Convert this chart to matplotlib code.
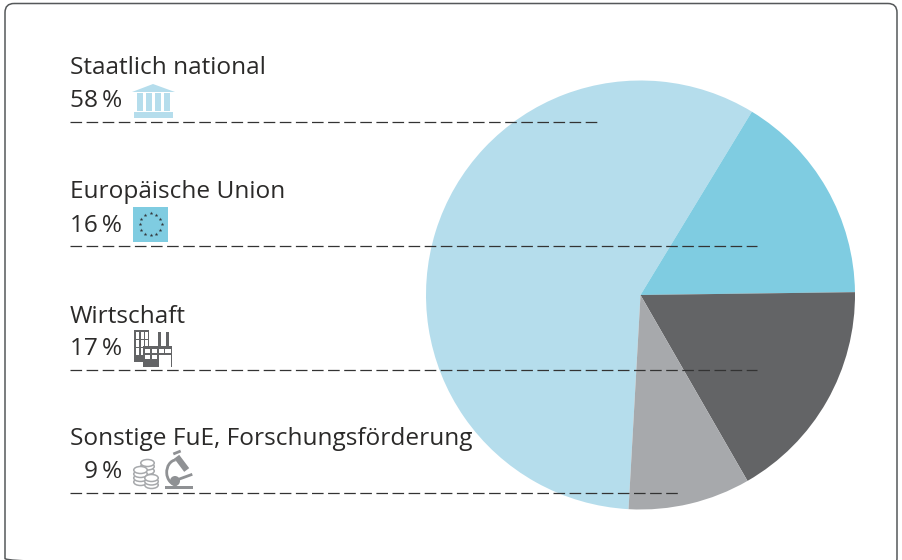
# Finanzierung: Kreisdiagramm mit Legende links

import numpy
from matplotlib import pyplot as plt
from matplotlib import patches

plt.rcParams['font.family'] = ['Open Sans', 'DejaVu Sans']

categories = ["Staatlich national", "Europäische Union", "Wirtschaft", "Sonstige FuE, Forschungsförderung"]
shares = [57.8, 16.1, 16.9, 9.2]
share_labels = ["58\u2009%", "16\u2009%", "17\u2009%", "9\u2009%"]
colors = ["#b5ddec", "#7fcce1", "#636466", "#a7a9ac"]

W = 902
H = 560

fig = plt.figure(figsize=(W / 100, H / 100), dpi=100)

# Kreis in eigener Achse, Mitte (640.5, 295), Radius 214.5 px
cx, cy, r = 640.5, 295, 214.5
pie_ax = fig.add_axes([(cx - r) / W, 1 - (cy + r) / H, 2 * r / W, 2 * r / H])
pie_ax.pie(shares, colors=colors, startangle=-93.2, counterclock=False, radius=1)
pie_ax.set_xlim(-1, 1)
pie_ax.set_ylim(-1, 1)
pie_ax.axis("off")

# alles andere in Pixelkoordinaten
ax = fig.add_axes([0, 0, 1, 1], zorder=5)
ax.set_xlim(0, W)
ax.set_ylim(H, 0)
ax.axis("off")
ax.patch.set_alpha(0)

# Rahmen, unten abgeschnitten
frame = patches.FancyBboxPatch((5, 3.5), 892, 564, boxstyle="round,pad=0,rounding_size=9",
                               fill=False, ec="#55585a", lw=1.1)
ax.add_patch(frame)

title_y = [74, 198, 323, 445]
value_y = [107, 232, 355, 478]
line_y = [122, 246, 370, 493]
line_end = [597, 757, 757, 680]
for i in range(len(categories)):
    ax.text(70, title_y[i], categories[i], fontsize=17.6, color="#2b2a29", va="baseline", ha="left")
    ax.text(122, value_y[i], share_labels[i], fontsize=17.6, color="#2b2a29", va="baseline", ha="right")
    ax.plot([70, line_end[i]], [line_y[i], line_y[i]], color="#333333", lw=0.9, dashes=(9.28, 3.6))


def rect(x, y, w, h, c):
    ax.add_patch(patches.Rectangle((x, y), w, h, fc=c, ec="none"))


# Gebäude
c = colors[0]
ax.add_patch(patches.Polygon([[132, 92], [153, 84], [175, 92]], fc=c, ec="none"))
for x in [137, 146, 155, 164]:
    rect(x, 93, 6, 18, c)
rect(134, 112, 39, 6, c)

# EU-Fahne mit Sternenkreis
rect(133, 207, 35, 35, colors[1])
for a in numpy.arange(0, 360, 30):
    ax.plot(150.7 + 11 * numpy.cos(numpy.radians(a)), 224.3 + 11 * numpy.sin(numpy.radians(a)),
            marker="*", ms=2.8, color="#33383c", mew=0)

# Fabrik
c = colors[2]
rect(134, 330, 15, 32, c)
for x in [136, 140.7, 145]:
    for y in [332, 340, 348]:
        rect(x, y, 3, 7, "white")
rect(143, 346, 16, 21, c)
rect(159, 346, 13, 3, c)
rect(158, 332, 2.8, 15, c)
rect(165.7, 332, 2.8, 15, c)
rect(170.8, 346, 1.6, 21, c)
rect(159, 353, 12, 1.5, c)
rect(163.8, 349, 1.5, 5, c)
for x in [145, 152]:
    for y in [348.5, 354.5]:
        rect(x, y, 5, 4.5, "white")

# Münzen
c = colors[3]
coins = [[147.5, 476], [147.5, 471], [147.5, 466.5], [147.5, 463],
         [140.5, 482], [140.5, 478], [140.5, 474], [140.5, 470],
         [151.5, 485], [151.5, 481.5], [151.5, 478]]
for x, y in coins:
    ax.add_patch(patches.Ellipse((x, y), 13.5, 7, fc="white", ec=c, lw=1.1))

# Mikroskop
c = "#8f9194"
rect(165, 486, 28, 3, c)
ax.add_patch(patches.Circle((175, 481), 5, fc=c, ec="none"))
ax.add_patch(patches.Arc((176.7, 472.3), 20, 25, theta1=90, theta2=265, color=c, lw=2))
ax.plot([176.7, 186.7], [456.7, 470], color=c, lw=4.5, solid_capstyle="butt")
ax.plot([173.3, 180.7], [454, 451], color=c, lw=2, solid_capstyle="butt")
ax.plot([176.7, 192.3], [480, 474.3], color=c, lw=2, solid_capstyle="butt")

fig.savefig("out.png", dpi=100, facecolor="white")
